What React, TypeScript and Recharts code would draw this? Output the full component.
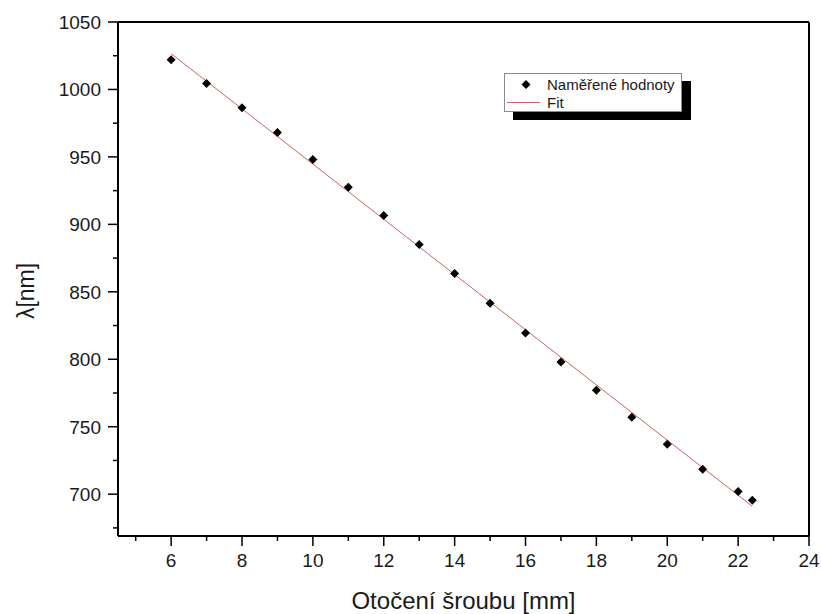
import React from "react";
import { Label, Legend, ReferenceLine, Scatter, ScatterChart, XAxis, YAxis } from "recharts";

// measured points (screw turn in mm vs wavelength in nm)
const turnMm = [6, 7, 8, 9, 10, 11, 12, 13, 14, 15, 16, 17, 18, 19, 20, 21, 22, 22.4];
const lambdaNm = [1022, 1004.5, 986.5, 968, 948, 927.5, 906.5, 885, 863.5, 841.5, 819.5, 798, 777, 757, 737, 718.5, 702, 695.5];

// linear fit endpoints
const fitTurn = [6, 22.4];
const fitLambda = [1026.5, 691];

const xMajor = [6, 8, 10, 12, 14, 16, 18, 20, 22, 24];
const xMinor = [5, 7, 9, 11, 13, 15, 17, 19, 21, 23];
const yMajor = [700, 750, 800, 850, 900, 950, 1000, 1050];
const yMinor = [675, 725, 775, 825, 875, 925, 975, 1025];

const measured = turnMm.map((x, i) => ({ x, y: lambdaNm[i] }));
const fit = fitTurn.map((x, i) => ({ x, y: fitLambda[i] }));

const FONT = "Arial, 'Liberation Sans', sans-serif";
const FIT_COLOR = "#c86464";

function XTick(props: any) {
  const { x, y, payload } = props;
  const major = xMajor.includes(payload.value);
  return (
    <g>
      <line x1={x} x2={x} y1={y} y2={y + (major ? 10 : 5)} stroke="#000" strokeWidth={1.5} />
      {major && (
        <text x={x} y={y + 31} textAnchor="middle" fontSize={19} fontFamily={FONT} fill="#1a1a1a">
          {payload.value}
        </text>
      )}
    </g>
  );
}

function YTick(props: any) {
  const { x, y, payload } = props;
  const major = yMajor.includes(payload.value);
  return (
    <g>
      <line x1={x - (major ? 10 : 5)} x2={x} y1={y} y2={y} stroke="#000" strokeWidth={1.5} />
      {major && (
        <text x={x - 17} y={y + 7} textAnchor="end" fontSize={19} fontFamily={FONT} fill="#1a1a1a">
          {payload.value}
        </text>
      )}
    </g>
  );
}

function Diamond(props: any) {
  const { cx, cy } = props;
  const r = 4.5;
  return <polygon points={`${cx},${cy - r} ${cx + r},${cy} ${cx},${cy + r} ${cx - r},${cy}`} fill="#000" />;
}

function LegendBox() {
  return (
    <div
      style={{
        width: 178,
        height: 39,
        boxSizing: "border-box",
        border: "1px solid #8a8a8a",
        background: "#fff",
        boxShadow: "9px 8px 0 #000",
      }}
    >
      <svg width={176} height={37} style={{ display: "block" }}>
        <polygon points="21,6 25.5,10.5 21,15 16.5,10.5" fill="#000" />
        <text x={42} y={16} fontSize={15} fontFamily={FONT} fill="#1a1a1a">
          Naměřené hodnoty
        </text>
        <line x1={2} x2={35} y1={28.5} y2={28.5} stroke={FIT_COLOR} strokeWidth={1} />
        <text x={42} y={34} fontSize={15} fontFamily={FONT} fill="#1a1a1a">
          Fit
        </text>
      </svg>
    </div>
  );
}

export default function App() {
  return (
    <div style={{ position: "absolute", left: 0, top: 0, background: "#fff" }}>
      <ScatterChart width={821} height={614} margin={{ top: 22, right: 12, bottom: 0, left: 0 }}>
        <XAxis
          type="number"
          dataKey="x"
          domain={[4.5, 24]}
          allowDataOverflow
          ticks={[...xMinor, ...xMajor].sort((a, b) => a - b)}
          interval={0}
          tick={<XTick />}
          tickLine={false}
          tickSize={0}
          tickMargin={0}
          height={78}
          axisLine={{ stroke: "#000", strokeWidth: 2 }}
        >
          <Label
            content={(p: any) => (
              <text
                x={p.viewBox.x + p.viewBox.width / 2}
                y={p.viewBox.y + 73}
                textAnchor="middle"
                fontSize={24}
                fontFamily={FONT}
                fill="#1a1a1a"
              >
                Otočení šroubu [mm]
              </text>
            )}
          />
        </XAxis>
        <YAxis
          type="number"
          dataKey="y"
          domain={[669, 1050]}
          allowDataOverflow
          ticks={[...yMinor, ...yMajor].sort((a, b) => a - b)}
          interval={0}
          tick={<YTick />}
          tickLine={false}
          tickSize={0}
          tickMargin={0}
          width={118}
          axisLine={{ stroke: "#000", strokeWidth: 2 }}
        >
          <Label
            content={(p: any) => {
              const cx = p.viewBox.x + 26;
              const cy = p.viewBox.y + p.viewBox.height / 2 + 12;
              return (
                <text
                  x={cx}
                  y={cy}
                  transform={`rotate(-90 ${cx} ${cy})`}
                  textAnchor="middle"
                  dominantBaseline="central"
                  fontSize={23}
                  fontFamily={FONT}
                  fill="#1a1a1a"
                >
                  λ[nm]
                </text>
              );
            }}
          />
        </YAxis>
        <ReferenceLine y={1050} stroke="#000" strokeWidth={2} />
        <ReferenceLine x={24} stroke="#000" strokeWidth={2} />
        <Scatter
          name="Fit"
          data={fit}
          line={{ stroke: FIT_COLOR, strokeWidth: 1 }}
          shape={() => <g />}
          isAnimationActive={false}
        />
        <Scatter name="Naměřené hodnoty" data={measured} shape={<Diamond />} isAnimationActive={false} />
        <Legend
          layout="vertical"
          align="center"
          verticalAlign="middle"
          content={() => <LegendBox />}
          wrapperStyle={{ left: 504, top: 73, width: 190, height: 48 }}
        />
      </ScatterChart>
    </div>
  );
}
